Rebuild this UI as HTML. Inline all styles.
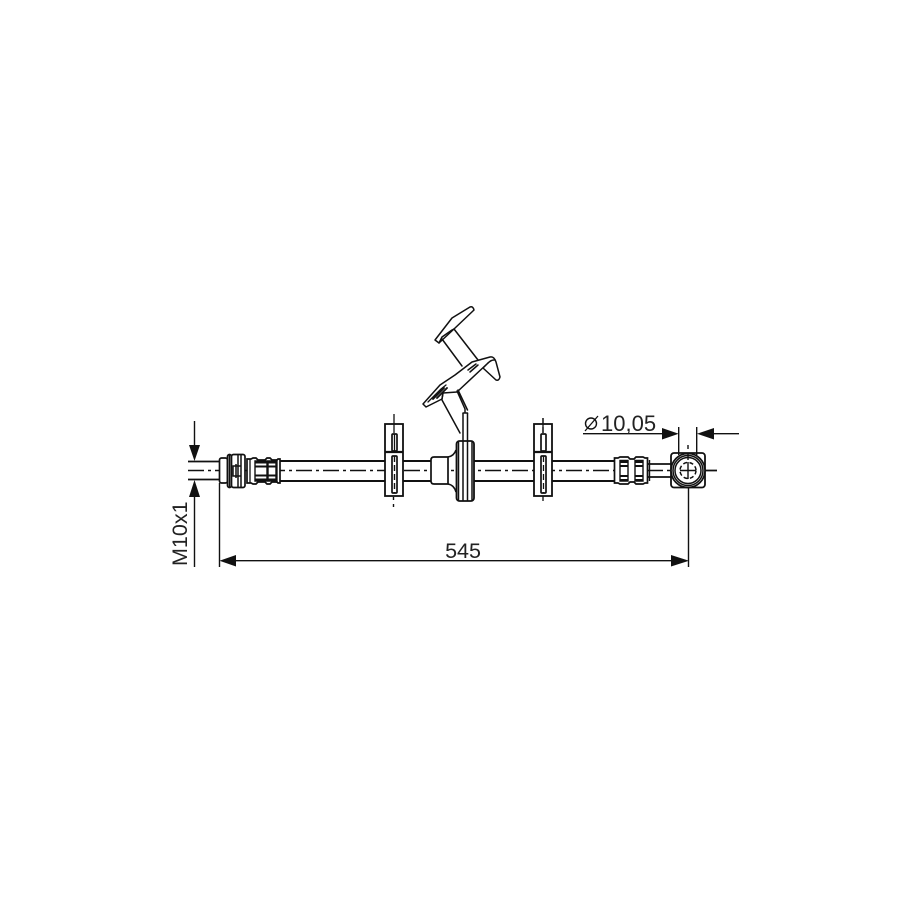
<!DOCTYPE html>
<html><head><meta charset="utf-8">
<style>
html,body{margin:0;padding:0;background:#fff;width:915px;height:915px;overflow:hidden}
svg{display:block}
text{font-family:"Liberation Sans",sans-serif;fill:#222}
</style></head><body>
<svg width="915" height="915" viewBox="0 0 915 915" xmlns="http://www.w3.org/2000/svg" fill="none" stroke="#111" stroke-width="1.5">
<!-- hose -->
<path d="M280 461H385M403 461H431M474 461H534M552 461H614M280 481H385M403 481H431M474 481H534M552 481H614" stroke-width="1.900"/>
<path d="M188 461.500H219M188 479.500H219" stroke-width="1.800"/>
<path d="M648 464H671M648 477H671" stroke-width="1.700"/>
<!-- centre line -->
<path d="M188 470.500H717" stroke-width="1.500" stroke-dasharray="16 4 3 4"/>
<!-- left connector -->
<g fill="#fff" stroke-width="1.700">
<rect x="219.500" y="458" width="8" height="25" rx="2"/>
<rect x="227.500" y="454.500" width="4" height="33" rx="2"/>
<rect x="231.500" y="454.500" width="13.500" height="33" rx="2"/>
<path d="M247 459H251L253 458H256L258 460H265L267 458H270L272 460H277L278 459H280V483H278L277 482H272L270 484H267L265 482H258L256 484H253L251 483H247Z"/>
</g>
<path d="M229.500 455V487M238 455V487M241 455V487M233 466H241V476H233ZM236 464V478" stroke-width="1.500"/>
<path d="M250 459V483M277 459V483" stroke-width="1.300"/>
<path d="M255 461H267V481H255ZM268 461H276V481H268Z" stroke-width="1.400"/>
<path d="M255 462.500H267M255 466.500H267M255 475.500H267M255 479.500H267M268 462.500H276M268 466.500H276M268 475.500H276M268 479.500H276" stroke-width="1.900"/>
<!-- right connector -->
<path d="M614.500 458H618L620 457H628L630 459H634L636 457H643L645 458H647.500V483H645L643 484H636L634 482H630L628 484H620L618 483H614.500Z" fill="#fff" stroke-width="1.700"/>
<path d="M620 460.500H628V481H620ZM635 460.500H643V481H635Z" stroke-width="1.400"/>
<path d="M620 462H628M620 466H628M620 476H628M620 480H628M635 462H643M635 466H643M635 476H643M635 480H643" stroke-width="1.900"/>
<path d="M649.500 460V481" stroke-width="1.400"/>
<!-- centre part -->
<path d="M448 457H434Q431 457 431 460V481Q431 484 434 484H448V457Z" fill="#fff" stroke-width="1.700"/>
<path d="M448 457Q454 456 456 450M448 484Q454 485 456 492" stroke-width="1.600"/>
<rect x="456.500" y="441" width="17.500" height="60" rx="3" fill="#fff" stroke-width="1.800"/>
<path d="M458.500 441V501M463 413V501M467.500 413V501M472 441V501" stroke-width="1.500"/>
<path d="M456 470.500H474" stroke="#fff" stroke-width="0"/>
<!-- clips -->
<g fill="#fff" stroke-width="1.800">
<rect x="385" y="424" width="18" height="72"/>
<path d="M385 452H403" stroke-width="2.200"/>
<rect x="392" y="434" width="5" height="17" rx="1" stroke-width="1.700"/>
<rect x="392" y="456" width="5" height="37" rx="1" stroke-width="1.700"/>
</g>
<path d="M394 414V433M394.500 434V451" stroke-width="1.300"/>
<path d="M394.500 456V493" stroke-width="1.400" stroke-dasharray="6 3"/>
<g fill="#fff" stroke-width="1.800">
<rect x="534" y="424" width="18" height="72"/>
<path d="M534 452H552" stroke-width="2.200"/>
<rect x="541" y="434" width="5" height="17" rx="1" stroke-width="1.700"/>
<rect x="541" y="456" width="5" height="37" rx="1" stroke-width="1.700"/>
</g>
<path d="M543 418V433M543.500 456V493" stroke-width="1.300" stroke-dasharray="6 3"/>
<path d="M543 418V433M543 496V501" stroke-width="1.300"/>
<path d="M393.500 497V511" stroke-width="1.400" stroke-dasharray="3 4"/>
<!-- bracket -->
<g stroke-width="1.500" stroke-linejoin="round" stroke-linecap="round">
<!-- upper plate and web -->
<path d="M442 339L462 365H470L478 360L454 329L452 330L442 337Z" fill="#fff" stroke="none"/>
<path d="M435 340L452 318L470 307Q473 306 474 310L454 329L439 343Z" fill="#fff"/>
<path d="M439 343L442 337L452 330L454 329"/>
<path d="M454 329L478 360M442 339L462 366"/>
<!-- lower plate and tab -->
<path d="M423 404L440 385L455 375L472 362L490 357Q494 356 496 362L500 377Q499 381 496 380L483 368L488 363L457 392L443 393L442 399L426 407Z" fill="#fff"/>
<path d="M443 393L442 399M457 391L465 409V413M463 413H467.500M467.500 410L458 390M488 363Q491 360 494 360"/>
<path d="M442 400L460 433"/>
<path d="M428 402L441 389L446 385" stroke-width="1.300"/>
<path d="M433 399L444 388M437 398L447 388" stroke-width="1.900"/>
<path d="M468 370L476 364M470 372L478 365" stroke-width="1.500"/>
</g>
<!-- fitting -->
<rect x="671" y="453" width="34" height="34.500" rx="3" fill="#fff" stroke-width="1.800"/>
<circle cx="688" cy="470.500" r="17" fill="#fff" stroke-width="1.700"/>
<circle cx="688" cy="470.500" r="15" stroke-width="1.500"/>
<circle cx="688" cy="470.500" r="13" stroke-width="1.500"/>
<circle cx="688" cy="470.500" r="8" stroke-width="1.500" stroke-dasharray="4 2.500"/>
<path d="M680 470.500H696M705 470.500H717M688 445V449M688 453V460M688 462V479M688.500 487V567" stroke-width="1.400"/>
<!-- dimensions -->
<path d="M194.500 421V446M194.500 496V567M219.500 483V567" stroke-width="1.400"/>
<path d="M194.500 461L189 445H200ZM194.500 480L189 497H200Z" fill="#111" stroke="none"/>
<path d="M235 560.700H672" stroke-width="1.400"/>
<path d="M219.500 560.700L236 555V566.500ZM689 560.700L671 555V566.500Z" fill="#111" stroke="none"/>
<path d="M678.700 427V455M696.700 427V455" stroke-width="1.400"/>
<path d="M583 433.700H663M713 433.700H739" stroke-width="1.400"/>
<path d="M678.700 433.700L662 428V439.500ZM697 433.700L714 428V439.500Z" fill="#111" stroke="none"/>
<circle cx="591" cy="423.500" r="5.500" stroke-width="1.400"/>
<path d="M585 431L598 416" stroke-width="1.300"/>
<text x="601" y="431" font-size="22" stroke="none">10,05</text>
<text x="463" y="558" font-size="21.500" stroke="none" text-anchor="middle">545</text>
<text transform="translate(187 566) rotate(-90)" font-size="21.500" stroke="none">M10x1</text>
</svg>
</body></html>
